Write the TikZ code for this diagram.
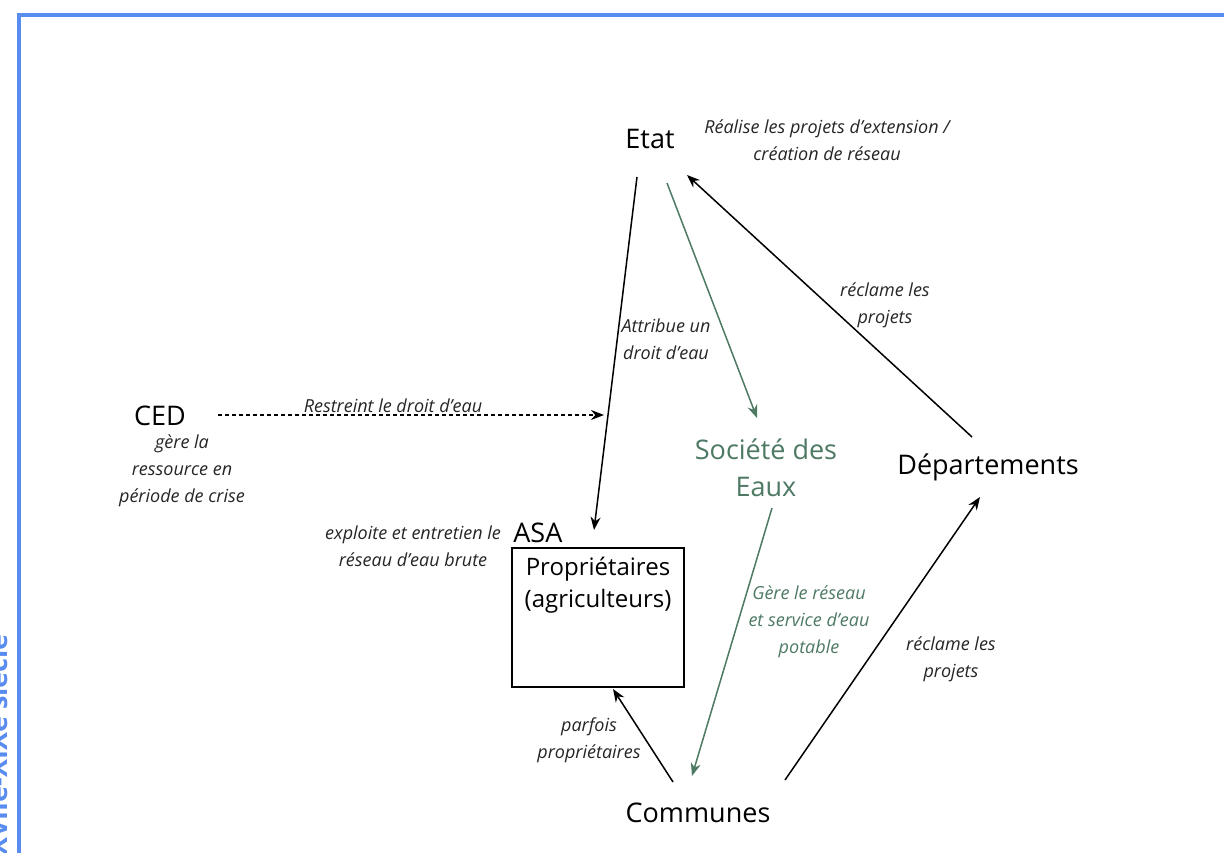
\documentclass[tikz,border=0pt]{standalone}
\usepackage{fontspec}
\setmainfont{Open Sans}
\usetikzlibrary{arrows.meta, positioning}
\definecolor{frameblue}{RGB}{88,140,240}
\definecolor{eaugreen}{RGB}{78,122,100}

\begin{document}
\begin{tikzpicture}[
  x=1pt, y=-1pt,
  actor/.style={font=\fontsize{27}{37}\selectfont, align=center, inner sep=0pt},
  boxtxt/.style={font=\fontsize{24}{32}\selectfont, align=center, inner sep=0pt},
  lbl/.style={font=\fontsize{18}{27}\selectfont\itshape, align=center, inner sep=0pt, text=black!85},
  arr/.style={-{Stealth[length=13pt, width=10pt]}, line width=1.5pt},
  greenarr/.style={arr, draw=eaugreen},
  dasharr/.style={arr, dashed, dash pattern=on 4pt off 3pt},
]

\fill[white] (0,0) rectangle (1224,853);
\useasboundingbox (0,0) rectangle (1224,853);

\draw[frameblue, line width=3.5pt] (19,860) |- (1230,15);
\node[name=period, rotate=90, anchor=base, font=\fontsize{27}{30}\selectfont\bfseries, text=frameblue]
  at (8,745) {XVIIe-XIXe siècle};

\node[name=etat, actor, anchor=base] at (650,149) {Etat};
\node[name=ced, actor, anchor=base] at (160,425) {CED};
\node[name=societe, actor, text=eaugreen] at (766,468) {Société des\\Eaux};
\node[name=dept, actor, anchor=base] at (988,474) {Départements};
\node[name=communes, actor, anchor=base] at (698,822) {Communes};

\node[name=asa, draw, line width=1.6pt, minimum width=172pt, minimum height=139pt] at (598,617.5) {};
\node[name=proprio, boxtxt, below=10pt of asa.north] {Propriétaires\\(agriculteurs)};
\node[name=asalbl, actor, anchor=base west] at ([xshift=2pt, yshift=5pt]asa.north west) {ASA};

\node[name=cedrole, lbl] at (182,471) {gère la\\ressource en\\période de crise};

\coordinate (etat-a) at (637,177);
\coordinate (etat-b) at (667,183);
\coordinate (etat-c) at (687,175);
\coordinate (asa-in) at (594,530);
\coordinate (asa-b) at (613,689);
\coordinate (ced-out) at (218,415);
\coordinate (droit) at (604,415);
\coordinate (soc-in) at (757,418);
\coordinate (soc-out) at (772,508);
\coordinate (dept-out) at (972,437);
\coordinate (dept-in) at (980,497);
\coordinate (com-a) at (673,782);
\coordinate (com-b) at (692,776);
\coordinate (com-c) at (785,780);

\draw[arr] (etat-a) -- (asa-in);
\draw[greenarr] (etat-b) -- (soc-in);
\draw[arr] (dept-out) -- (etat-c);
\draw[greenarr] (soc-out) -- (com-b);
\draw[arr] (com-c) -- (dept-in);
\draw[arr] (com-a) -- (asa-b);
\draw[dasharr] (ced-out) -- (droit);

\node[name=realise, lbl] at (827,140) {Réalise les projets d’extension /\\création de réseau};
\node[name=attribue, lbl] at (666,339) {Attribue un\\droit d’eau};
\node[name=reclame1, lbl] at (885,305) {réclame les\\projets};
\node[name=restreint, lbl, anchor=base] at (393,412) {Restreint le droit d’eau};
\node[name=exploite, lbl] at (413,546) {exploite et entretien le\\réseau d’eau brute};
\node[name=gere, lbl, text=eaugreen] at (809,622) {Gère le réseau\\et service d’eau\\potable};
\node[name=reclame2, lbl] at (951,659) {réclame les\\projets};
\node[name=parfois, lbl] at (589,740) {parfois\\propriétaires};
\end{tikzpicture}
\end{document}
